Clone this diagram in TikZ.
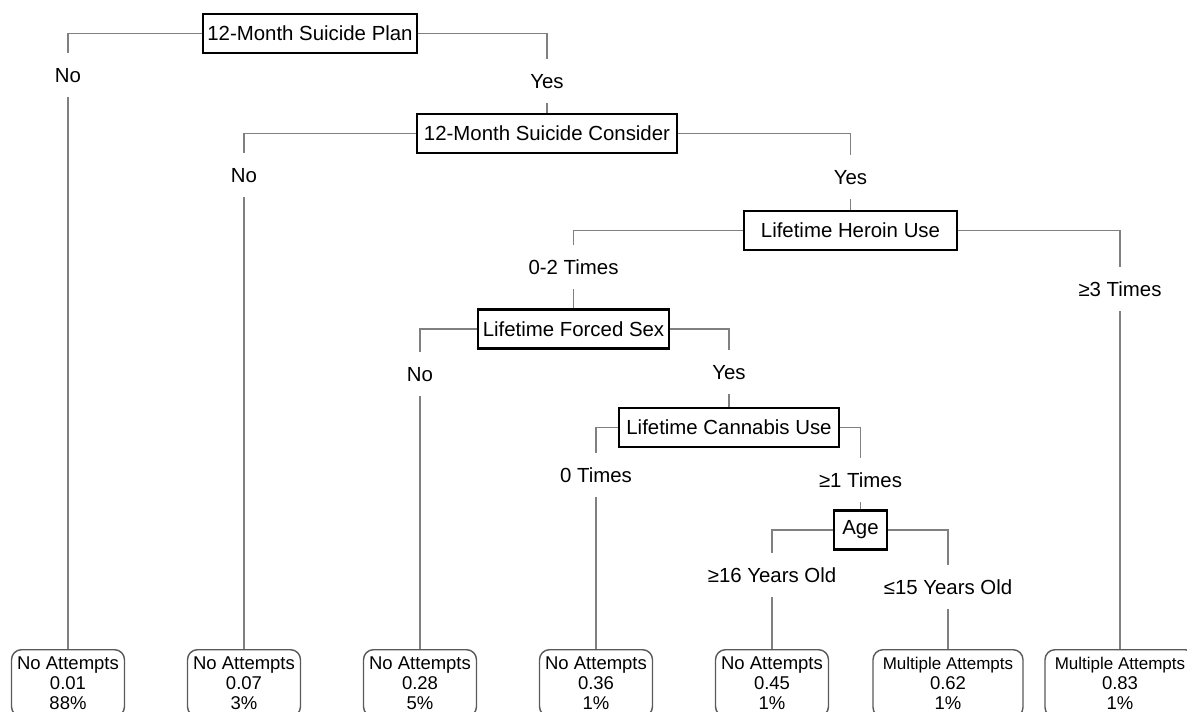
\documentclass[tikz,border=0pt]{standalone}
\usepackage{fontspec}
\setmainfont{Liberation Sans}
\definecolor{conngray}{HTML}{808080}
\definecolor{leafgray}{HTML}{5A5A5A}
\newcommand{\multitxt}{{\fontsize{17}{20}\selectfont Multiple Attempts}}
\begin{document}
\begin{tikzpicture}[x=1pt,y=-1pt,
  dec/.style={draw=black, line width=2.2pt, font=\fontsize{20.4}{24}\selectfont, minimum height=39pt, inner xsep=3pt, inner ysep=0pt},
  lbl/.style={font=\fontsize{20.4}{24}\selectfont, minimum height=44pt, inner sep=0pt, text height=14.5pt, text depth=0pt},
  leaf/.style={draw=leafgray, line width=1.4pt, rounded corners=10pt, anchor=north, align=center, font=\fontsize{18.5}{20}\selectfont, minimum width=113pt, inner xsep=4pt, inner ysep=7pt},
  multileaf/.style={leaf, minimum width=150pt, inner ysep=7.6pt},
  conn/.style={draw=conngray, line width=1.8pt}]
\useasboundingbox (0,0) rectangle (1187,712);
\clip (0,0) rectangle (1187,712);
\fill[white] (0,0) rectangle (1187,712);

% decision nodes
\node[dec, minimum width=214pt] (d1) at (310,33.5) {12-Month Suicide Plan};
\node[dec, minimum width=260pt] (d2) at (547,133.5) {12-Month Suicide Consider};
\node[dec, minimum width=213pt] (d3) at (850.5,230.5) {Lifetime Heroin Use};
\node[dec, minimum width=191pt] (d4) at (573.5,329) {Lifetime Forced Sex};
\node[dec, minimum width=220pt] (d5) at (729,427.5) {Lifetime Cannabis Use};
\node[dec, minimum width=53pt] (d6) at (860.5,530) {Age};

% branch labels
\node[lbl] (no1) at (68,75) {No};
\node[lbl] (yes1) at (547,81) {Yes};
\node[lbl] (no2) at (244,175) {No};
\node[lbl] (yes2) at (850.5,177) {Yes};
\node[lbl] (t02) at (573.5,267) {0-2 Times};
\node[lbl] (t3) at (1120,289) {≥3 Times};
\node[lbl] (no4) at (420,374) {No};
\node[lbl] (yes4) at (729,372) {Yes};
\node[lbl] (t0) at (596,475) {0 Times};
\node[lbl] (t1) at (860.5,480) {≥1 Times};
\node[lbl] (ge16) at (772,575) {≥16 Years Old};
\node[lbl] (le15) at (948,587) {≤15 Years Old};

% leaves
\node[leaf] (l1) at (68,649) {No Attempts\\0.01\\88\%};
\node[leaf] (l2) at (244,649) {No Attempts\\0.07\\3\%};
\node[leaf] (l3) at (420,649) {No Attempts\\0.28\\5\%};
\node[leaf] (l4) at (596,649) {No Attempts\\0.36\\1\%};
\node[leaf] (l5) at (772,649) {No Attempts\\0.45\\1\%};
\node[multileaf] (l6) at (948,649) {\multitxt\\0.62\\1\%};
\node[multileaf] (l7) at (1120,649) {\multitxt\\0.83\\1\%};

% connectors
\draw[conn] (d1.west) -| (no1.north);
\draw[conn] (no1.south) -- (l1.north);
\draw[conn] (d1.east) -| (yes1.north);
\draw[conn] (yes1.south) -- (d2.north);

\draw[conn] (d2.west) -| (no2.north);
\draw[conn] (no2.south) -- (l2.north);
\draw[conn] (d2.east) -| (yes2.north);
\draw[conn] (yes2.south) -- (d3.north);

\draw[conn] (d3.west) -| (t02.north);
\draw[conn] (t02.south) -- (d4.north);
\draw[conn] (d3.east) -| (t3.north);
\draw[conn] (t3.south) -- (l7.north);

\draw[conn] (d4.west) -| (no4.north);
\draw[conn] (no4.south) -- (l3.north);
\draw[conn] (d4.east) -| (yes4.north);
\draw[conn] (yes4.south) -- (d5.north);

\draw[conn] (d5.west) -| (t0.north);
\draw[conn] (t0.south) -- (l4.north);
\draw[conn] (d5.east) -| (t1.north);
\draw[conn] (t1.south) -- (d6.north);

\draw[conn] (d6.west) -| (ge16.north);
\draw[conn] (ge16.south) -- (l5.north);
\draw[conn] (d6.east) -| (le15.north);
\draw[conn] (le15.south) -- (l6.north);
\end{tikzpicture}
\end{document}
